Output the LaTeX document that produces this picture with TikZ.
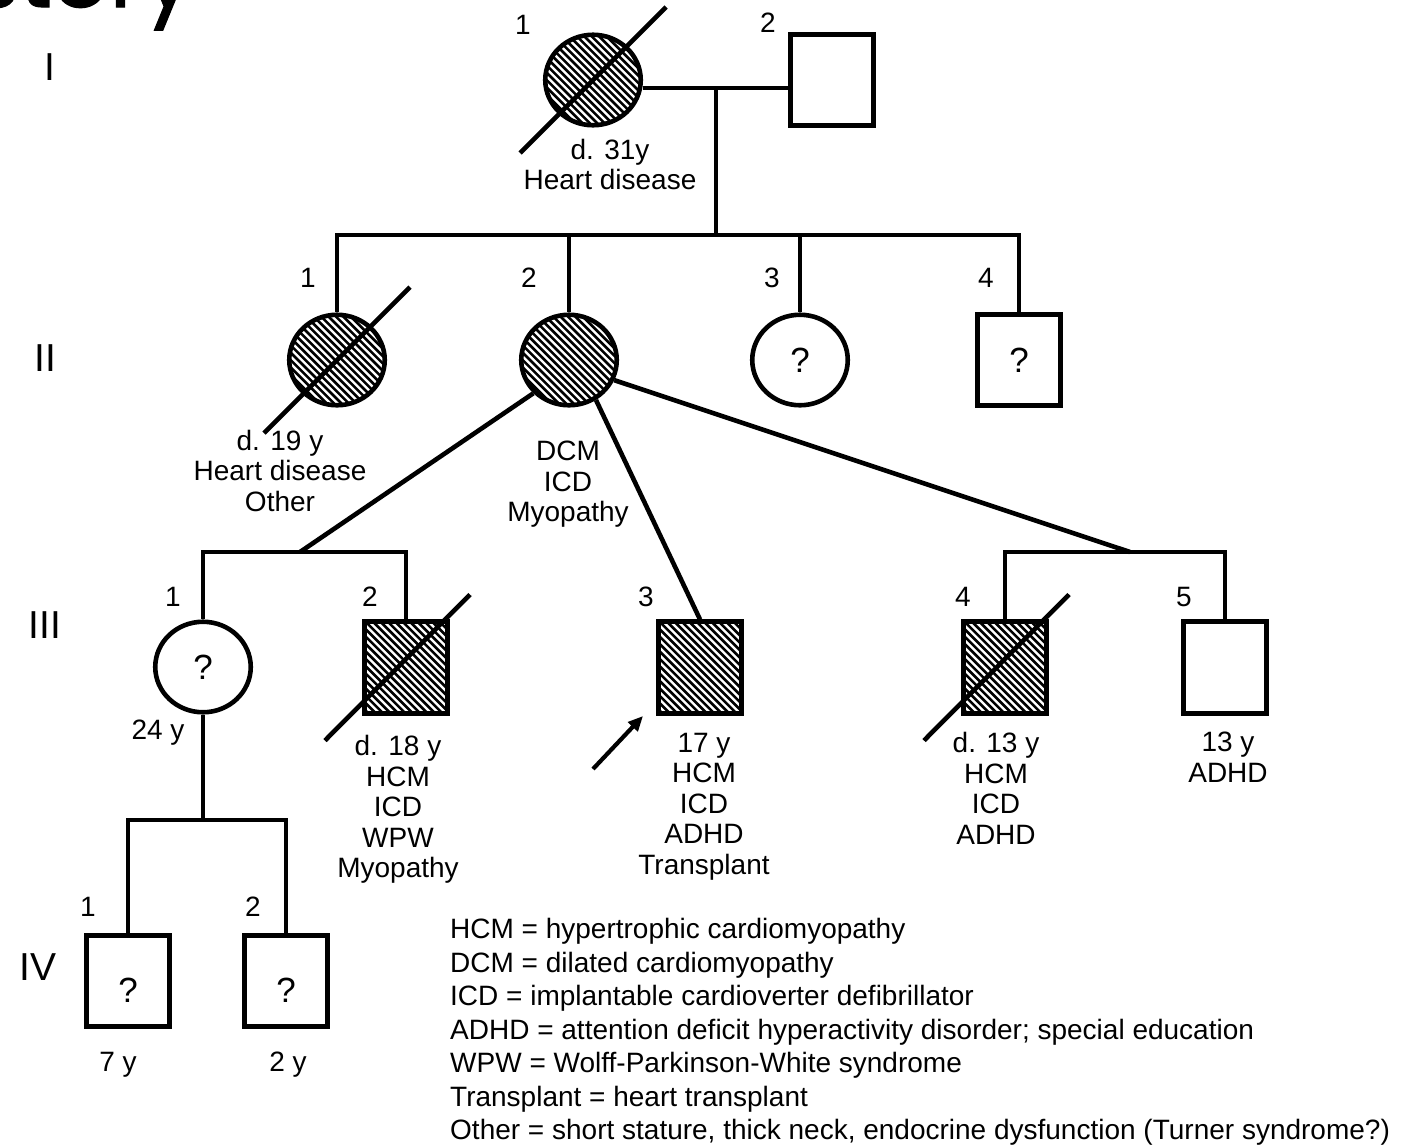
\documentclass[tikz,border=0pt]{standalone}
\usepackage{fontspec}
\setmainfont{Liberation Sans}
\newfontfamily\titlefont[FakeBold=1.2]{Poppins}
\usetikzlibrary{shapes.geometric,arrows.meta}
\begin{document}
\begin{tikzpicture}[x=1pt,y=-1pt,
  lw/.style={line width=4.6pt},
  conn/.style={lw,line join=miter},
  sq/.style={draw,lw,rectangle,minimum width=83.5pt,minimum height=91.5pt,inner sep=0pt},
  fem/.style={draw,lw,ellipse,minimum width=95.5pt,minimum height=90.5pt,inner sep=0pt},
  hatch/.style={path picture={\foreach \k in {-150,-142.6,...,150}{\draw[line width=2.6pt] ([shift={(\k-110,-110)}]path picture bounding box.center) -- ++(220,220);}}},
  lbl/.style={font=\fontsize{28}{30.5}\selectfont,align=center,inner sep=0pt,anchor=north},
  num/.style={font=\fontsize{28}{31}\selectfont,inner sep=0pt},
  gen/.style={font=\fontsize{39}{44}\selectfont,inner sep=0pt},
  qm/.style={font=\fontsize{35}{40}\selectfont},
  qmlow/.style={font=\fontsize{35}{40}\selectfont,text height=42pt},
]
\useasboundingbox (0,0) rectangle (1408,1144);

% title fragment
\node[font=\titlefont\fontsize{90}{100}\selectfont,anchor=base east,inner sep=0pt] (title) at (194,7) {History};

% generation labels
\node[gen] (gI) at (50,67) {I};
\node[gen] (gII) at (45,358) {II};
\node[gen] (gIII) at (45,625) {III};
\node[gen] (gIV) at (38,967) {IV};

% Generation I
\node[fem,hatch] (I1) at (593,80) {};
\node[sq] (I2) at (832,80) {};
\coordinate (m1) at (716,88);
\coordinate (s1) at (716,235);
\draw[conn] (m1 -| I1.east) -- (m1 -| I2.west);
\draw[conn] (m1) -- (s1);
\draw[lw] ([shift={(-73,73)}]I1.center) -- ([shift={(73,-73)}]I1.center);
\node[num] (nI1) at (523,25) {1};
\node[num] (nI2) at (768,23) {2};
\node[lbl] (L1) at (610,139) {d. 31y\\Heart disease};

% Generation II
\node[fem,hatch] (II1) at (337,360) {};
\node[fem,hatch] (II2) at (569,360) {};
\node[fem,qm] (II3) at (800,360) {?};
\node[sq,qm] (II4) at (1019,360) {?};
\draw[conn] (II1.north) -- (II1.north |- s1) -- (II4.north |- s1) -- (II4.north);
\draw[conn] (II2.north |- s1) -- (II2.north);
\draw[conn] (II3.north |- s1) -- (II3.north);
\draw[lw] ([shift={(-73,73)}]II1.center) -- ([shift={(73,-73)}]II1.center);
\node[num] (nII1) at (308,278) {1};
\node[num] (nII2) at (529,278) {2};
\node[num] (nII3) at (772,278) {3};
\node[num] (nII4) at (986,278) {4};
\node[lbl] (L2) at (280,430) {d. 19 y\\Heart disease\\Other};
\node[lbl] (L3) at (568,441) {DCM\\ICD\\Myopathy};

% Generation III
\coordinate (c1) at (300,552);
\coordinate (c2) at (1130,552);
\node[fem,qm] (III1) at (203,667) {?};
\node[sq,hatch] (III2) at (406,667.5) {};
\node[sq,hatch] (III3) at (700,667.5) {};
\node[sq,hatch] (III4) at (1005,667.5) {};
\node[sq] (III5) at (1225,667.5) {};
\draw[conn] (III1.north) -- (III1.north |- c1) -- (III2.north |- c1) -- (III2.north);
\draw[conn] (III4.north) -- (III4.north |- c2) -- (III5.north |- c2) -- (III5.north);
\draw[conn] (II2.-137) -- (c1);
\draw[conn] (II2.-56) -- (III3.north);
\draw[conn] (II2.-24) -- (c2);
\draw[lw] ([shift={(-81,73)}]III2.center) -- ([shift={(64,-73)}]III2.center);
\draw[lw] ([shift={(-81,73)}]III4.center) -- ([shift={(64,-73)}]III4.center);
\node[num] (nIII1) at (173,597) {1};
\node[num] (nIII2) at (370,597) {2};
\node[num] (nIII3) at (646,597) {3};
\node[num] (nIII4) at (963,597) {4};
\node[num] (nIII5) at (1184,597) {5};
\node[lbl] (L4) at (158,720) {24 y};
\node[lbl] (L5) at (398,735) {d. 18 y\\HCM\\ICD\\WPW\\Myopathy};
\node[lbl] (L6) at (704,733) {17 y\\HCM\\ICD\\ADHD\\Transplant};
\node[lbl] (L7) at (996,732) {d. 13 y\\HCM\\ICD\\ADHD};
\node[lbl] (L8) at (1228,732) {13 y\\ADHD};

% proband arrow
\coordinate (pa) at (593,769);
\coordinate (pb) at (643,716);
\draw[line width=4.2pt,-{Triangle[length=15pt,width=13pt]}] (pa) -- (pb);

% Generation IV
\coordinate (s3) at (203,820);
\node[sq,qmlow] (IV1) at (128,981) {?};
\node[sq,qmlow] (IV2) at (286,981) {?};
\draw[conn] (III1.south) -- (s3);
\draw[conn] (IV1.north) -- (IV1.north |- s3) -- (IV2.north |- s3) -- (IV2.north);
\node[num] (nIV1) at (88,907) {1};
\node[num] (nIV2) at (253,907) {2};
\node[lbl] (L9) at (118,1052) {7 y};
\node[lbl] (L10) at (288,1052) {2 y};

% legend
\node[font=\fontsize{28}{33.5}\selectfont,align=left,anchor=north west,inner sep=0pt] (leg) at (450,918)
 {HCM = hypertrophic cardiomyopathy\\
  DCM = dilated cardiomyopathy\\
  ICD = implantable cardioverter defibrillator\\
  ADHD = attention deficit hyperactivity disorder; special education\\
  WPW = Wolff-Parkinson-White syndrome\\
  Transplant = heart transplant\\
  Other = short stature, thick neck, endocrine dysfunction (Turner syndrome?)};
\end{tikzpicture}
\end{document}
